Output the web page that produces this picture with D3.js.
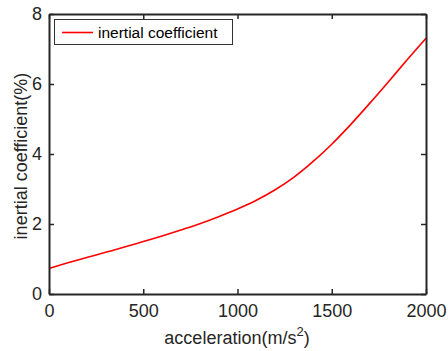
<!DOCTYPE html>
<html><head><meta charset="utf-8">
<script src="https://cdn.jsdelivr.net/npm/d3@7"></script>
<style>body{margin:0;background:#fff}svg{display:block}text{font-family:"Liberation Sans",Arial,sans-serif}</style>
</head><body>
<script>
const accel = [0,100,200,300,400,500,600,700,800,900,1000,1100,1200,1300,1400,1500,1600,1700,1800,1900,2000];
const coeff = [0.73,0.89,1.04,1.19,1.34,1.50,1.66,1.83,2.01,2.21,2.43,2.68,2.98,3.34,3.78,4.28,4.84,5.44,6.06,6.69,7.31];
const xTicks = [0,500,1000,1500,2000];
const yTicks = [0,2,4,6,8];
const seriesName = "inertial coefficient";

const W=448,H=351, L=49,R=426,T=14,B=294;
const svg=d3.select("body").append("svg").attr("width",W).attr("height",H);
const x=d3.scaleLinear().domain([0,2000]).range([L,R]);
const y=d3.scaleLinear().domain([0,8]).range([B,T]);
const axc="#262626";

const line=d3.line().x((d,i)=>x(accel[i])).y(d=>y(d)).curve(d3.curveMonotoneX);
svg.append("path").datum(coeff).attr("d",line).attr("fill","none").attr("stroke","#ff0000").attr("stroke-width",1.6);

function styleAxis(g){g.selectAll("path").attr("stroke",axc).attr("stroke-width",2);g.selectAll("line").attr("stroke",axc).attr("stroke-width",1.5);g.selectAll("text").attr("fill",axc).style("font-size","18px");}
const fmt=d3.format("d");
svg.append("g").attr("transform",`translate(0,${B})`).call(d3.axisBottom(x).tickValues(xTicks).tickFormat(fmt).tickSize(-5).tickSizeOuter(0).tickPadding(10)).call(styleAxis);
svg.append("g").attr("transform",`translate(0,${T})`).call(d3.axisTop(x).tickValues(xTicks).tickSize(-5).tickSizeOuter(0).tickFormat("")).call(styleAxis);
svg.append("g").attr("transform",`translate(${L},0)`).call(d3.axisLeft(y).tickValues(yTicks).tickFormat(fmt).tickSize(-5).tickSizeOuter(0).tickPadding(7)).call(styleAxis);
svg.append("g").attr("transform",`translate(${R},0)`).call(d3.axisRight(y).tickValues(yTicks).tickSize(-5).tickSizeOuter(0).tickFormat("")).call(styleAxis);

svg.append("text").attr("x",237).attr("y",344).attr("text-anchor","middle").attr("fill",axc).style("font-size","18px")
  .html('acceleration(m/s<tspan dy="-8" font-size="13px">2</tspan><tspan dy="8">)</tspan>');
svg.append("text").attr("transform",`translate(27,156) rotate(-90)`).attr("text-anchor","middle").attr("fill",axc).style("font-size","18px").text("inertial coefficient(%)");

const lg=svg.append("g");
lg.append("rect").attr("x",54.5).attr("y",19.5).attr("width",178).attr("height",25).attr("fill","#fff").attr("stroke","#333").attr("stroke-width",1);
lg.append("line").attr("x1",62).attr("x2",93).attr("y1",32.5).attr("y2",32.5).attr("stroke","#ff0000").attr("stroke-width",1.6);
lg.append("text").attr("x",98).attr("y",38).attr("fill","#000").style("font-size","15.5px").text(seriesName);
</script>
</body></html>
